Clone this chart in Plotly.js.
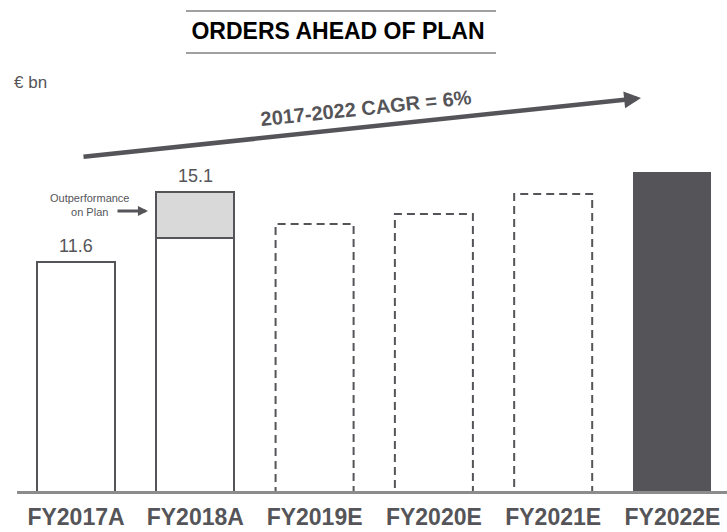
<!DOCTYPE html>
<html>
<head>
<meta charset="utf-8">
<script src="https://cdn.plot.ly/plotly-3.0.1.min.js"></script>
<style>html,body{margin:0;padding:0;background:#fff;}#chart{width:727px;height:532px;}</style>
</head>
<body>
<div id="chart"></div>
<script>
const categories = ['FY2017A', 'FY2018A', 'FY2019E', 'FY2020E', 'FY2021E', 'FY2022E'];
const baseValues = [11.6, 12.8, 13.5, 14.0, 15.0, 16.1];
const outperformance = [0, 2.3, 0, 0, 0, 0];
const valueLabels = ['11.6', '15.1', '', '', '', ''];
const barKinds = ['actual', 'actual', 'estimate', 'estimate', 'estimate', 'target'];
const unitLabel = '€ bn';
const cagrLabel = '2017-2022 CAGR = 6%';
const outperfLabel = 'Outperformance<br>on Plan';
const chartTitle = 'ORDERS AHEAD OF PLAN';

const FONT = 'Liberation Sans, Arial, Helvetica, sans-serif';
const DARK = '#555559';
const W = 727, H = 532, T = 40, B = 38;
const plotH = H - T - B;
const px = v => v / W;
const py = v => (H - B - v) / plotH;
const BAR_W = 0.654;

const totals = baseValues.map((v, i) => v + outperformance[i]);

const baseTrace = {
  type: 'bar', x: categories, y: baseValues, width: BAR_W,
  marker: {
    color: barKinds.map(k => k === 'target' ? DARK : '#ffffff'),
    line: { color: DARK, width: barKinds.map(k => k === 'actual' ? 2 : 0) }
  },
  hoverinfo: 'skip'
};
const outTrace = {
  type: 'bar', x: categories, y: outperformance, width: BAR_W,
  marker: {
    color: '#d9d9d9',
    line: { color: DARK, width: outperformance.map(v => v > 0 ? 2 : 0) }
  },
  hoverinfo: 'skip'
};

const shapes = [];
barKinds.forEach((k, i) => {
  if (k === 'estimate') {
    shapes.push({
      type: 'rect', xref: 'x', yref: 'y',
      x0: i - BAR_W / 2, x1: i + BAR_W / 2, y0: 0, y1: baseValues[i],
      line: { color: DARK, width: 2, dash: '8px,5px' }, fillcolor: 'rgba(0,0,0,0)'
    });
  }
});
// baseline
shapes.push({ type: 'line', xref: 'paper', yref: 'y', x0: px(17), x1: 1, y0: 0, y1: 0,
  line: { color: '#8c8c8c', width: 6 }, layer: 'above' });
// title rules
shapes.push({ type: 'line', xref: 'paper', yref: 'paper', x0: px(186), x1: px(496), y0: py(11), y1: py(11),
  line: { color: '#808080', width: 1.5 } });
shapes.push({ type: 'line', xref: 'paper', yref: 'paper', x0: px(186), x1: px(496), y0: py(53), y1: py(53),
  line: { color: '#808080', width: 1.5 } });

const annotations = [];
valueLabels.forEach((t, i) => {
  if (t) annotations.push({ x: categories[i], y: totals[i], xref: 'x', yref: 'y', text: t, showarrow: false,
    yanchor: 'middle', yshift: 16, font: { family: FONT, size: 18, color: DARK } });
});
annotations.push({ xref: 'paper', yref: 'paper', x: px(12), y: py(83), xanchor: 'left', yanchor: 'middle',
  text: unitLabel, showarrow: false, font: { family: FONT, size: 17, color: DARK } });
// CAGR arrow
annotations.push({ xref: 'paper', yref: 'paper', x: px(641), y: py(98), ax: 82 - 641, ay: 157 - 98,
  axref: 'pixel', ayref: 'pixel', text: '', showarrow: true, arrowhead: 2, arrowwidth: 4.5, arrowsize: 0.75,
  arrowcolor: DARK, standoff: 0 });
annotations.push({ xref: 'paper', yref: 'paper', x: px(366), y: py(107.5), xanchor: 'center', yanchor: 'middle',
  text: '<b>' + cagrLabel + '</b>', textangle: -6, showarrow: false,
  font: { family: FONT, size: 20, color: DARK } });
// outperformance note
annotations.push({ xref: 'paper', yref: 'paper', x: px(89), y: py(205), xanchor: 'center', yanchor: 'middle',
  text: outperfLabel, showarrow: false, align: 'center', font: { family: FONT, size: 11, color: DARK } });
annotations.push({ xref: 'paper', yref: 'paper', x: px(148), y: py(211), ax: -32, ay: 0,
  axref: 'pixel', ayref: 'pixel', text: '', showarrow: true, arrowhead: 2, arrowwidth: 3, arrowsize: 0.67,
  arrowcolor: DARK, standoff: 0 });

const layout = {
  width: W, height: H,
  margin: { l: 0, r: 0, t: T, b: B, pad: 0 },
  paper_bgcolor: '#ffffff', plot_bgcolor: '#ffffff',
  showlegend: false, barmode: 'stack',
  title: { text: chartTitle, x: 338 / W, xanchor: 'center', y: 1 - 31 / H, yanchor: 'middle',
    font: { family: FONT, size: 23, color: '#000000', weight: 'bold' } },
  xaxis: { type: 'category', range: [-0.637, 5.457], showgrid: false, zeroline: false, showline: false,
    ticks: '', ticklabelstandoff: 7,
    tickfont: { family: FONT, size: 23, color: DARK, weight: 'bold' }, fixedrange: true },
  yaxis: { range: [0, plotH / 20], visible: false, fixedrange: true },
  shapes: shapes, annotations: annotations
};

Plotly.newPlot('chart', [baseTrace, outTrace], layout, { staticPlot: true, displayModeBar: false });
</script>
</body>
</html>
